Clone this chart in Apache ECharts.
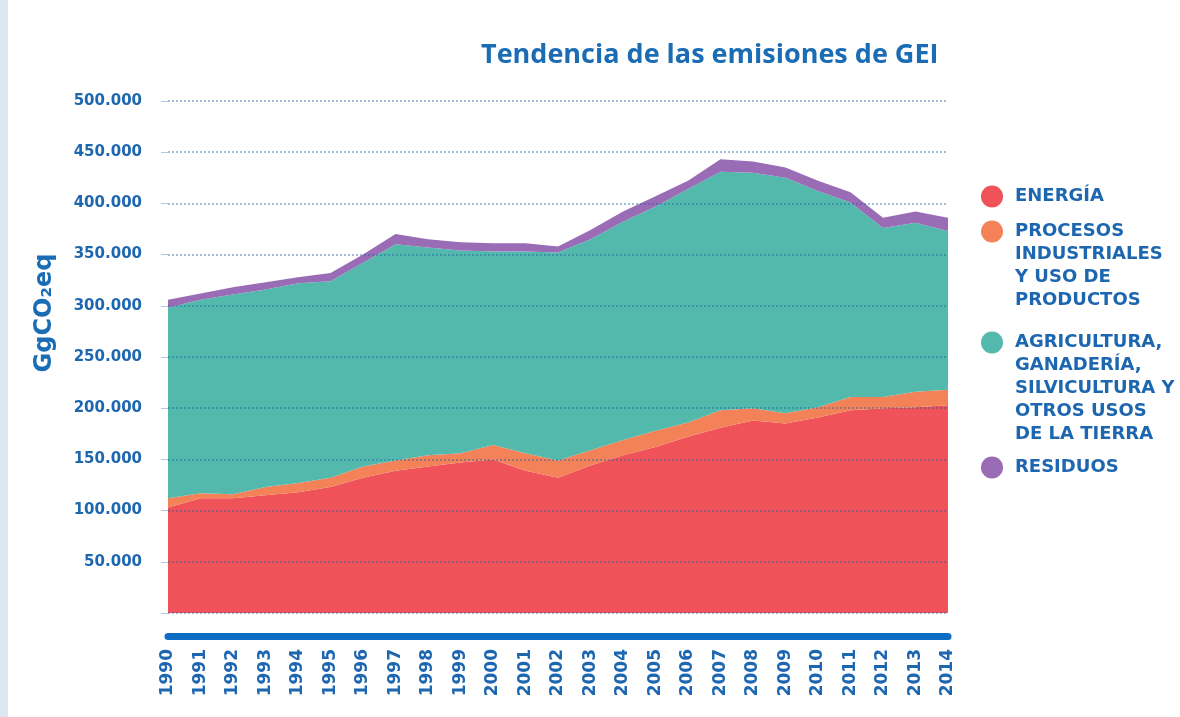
<!DOCTYPE html>
<html>
<head>
<meta charset="utf-8">
<title>Tendencia de las emisiones de GEI</title>
<script src="https://cdn.jsdelivr.net/npm/echarts@6/dist/echarts.min.js"></script>
<style>
  html, body { margin: 0; padding: 0; background: #fff; }
  #strip { position: absolute; left: 0; top: 0; width: 8px; height: 717px; background: #dce7f4; }
  #chart { width: 1180px; height: 717px; }
</style>
</head>
<body>
<div id="strip"></div>
<div id="chart"></div>
<script>
// años
const years = ['1990', '1991', '1992', '1993', '1994', '1995', '1996', '1997', '1998', '1999',
  '2000', '2001', '2002', '2003', '2004', '2005', '2006', '2007', '2008', '2009',
  '2010', '2011', '2012', '2013', '2014'];

// emisiones por sector (GgCO2eq)
const energia = [103000, 112000, 112000, 115000, 118000, 123000, 132000, 139000, 143000, 147000,
  150000, 139000, 132000, 144000, 154000, 162000, 172000, 181000, 188000, 185000,
  191000, 198000, 200000, 201000, 203000];
const procesos = [9000, 5000, 4000, 8000, 9000, 9000, 11000, 10000, 11000, 9000,
  14000, 17000, 17000, 15000, 15000, 16000, 14000, 17000, 12000, 10000,
  10000, 13000, 11000, 15000, 15000];
const agricultura = [186000, 189000, 195000, 193000, 195000, 192000, 199000, 211000, 203000, 198000,
  189000, 197000, 203000, 206000, 213000, 219000, 228000, 233000, 230000, 230000,
  211000, 190000, 165000, 165000, 155000];
const residuos = [8000, 6000, 7000, 7000, 6000, 8000, 8000, 10000, 8000, 8000,
  8000, 8000, 6000, 9000, 10000, 10000, 8000, 12000, 11000, 10000,
  10000, 10000, 10000, 11000, 13000];

const yTicks = [0, 50000, 100000, 150000, 200000, 250000, 300000, 350000, 400000, 450000, 500000];

const sectores = [
  { name: 'ENERGÍA', data: energia, color: '#ef5258', lines: 1 },
  { name: 'PROCESOS\nINDUSTRIALES\nY USO DE\nPRODUCTOS', data: procesos, color: '#f48258', lines: 4 },
  { name: 'AGRICULTURA,\nGANADERÍA,\nSILVICULTURA Y\nOTROS USOS\nDE LA TIERRA', data: agricultura, color: '#53b9ac', lines: 5 },
  { name: 'RESIDUOS', data: residuos, color: '#9a6cb6', lines: 1 }
];

const azul = '#1d66b0';
const fuente = '"DejaVu Sans", sans-serif';
const lineH = 23;
const legendTops = [185, 151, 239, 456];

function formatMiles(v) {
  if (v === 0) return '';
  return (v / 1000) + '.000';
}

const chart = echarts.init(document.getElementById('chart'));

const option = {
  animation: false,
  title: {
    text: 'Tendencia de las emisiones de GEI',
    left: 476,
    top: 37,
    textStyle: { color: '#1a6cb5', fontSize: 27, fontWeight: 'bold', fontFamily: '"Open Sans", sans-serif' }
  },
  // una leyenda por sector; las líneas vacías al principio alinean el círculo con la primera línea
  legend: sectores.map((s, i) => ({
    orient: 'vertical',
    left: 981,
    top: legendTops[i],
    padding: 0,
    icon: 'circle',
    itemWidth: 22,
    itemHeight: 22,
    itemGap: 0,
    selectedMode: false,
    formatter: name => '\n'.repeat(s.lines - 1) + name,
    textStyle: {
      color: azul, fontSize: 18, fontWeight: 'bold', fontFamily: fuente,
      lineHeight: lineH, padding: [0, 0, 0, 7]
    },
    data: [s.name]
  })),
  grid: { left: 168, right: 232, top: 101, bottom: 104 },
  xAxis: {
    type: 'category',
    data: years,
    boundaryGap: false,
    offset: 23,
    axisLine: { onZero: false, lineStyle: { color: '#0d6cc3', width: 7 } },
    axisTick: { show: false },
    axisLabel: {
      rotate: 90,
      margin: 13,
      color: azul,
      fontSize: 17,
      fontWeight: 'bold',
      fontFamily: fuente
    }
  },
  yAxis: {
    type: 'value',
    min: yTicks[0],
    max: yTicks[yTicks.length - 1],
    interval: 50000,
    z: 10,
    name: 'GgCO₂eq',
    nameLocation: 'middle',
    nameGap: 111,
    nameTextStyle: {
      color: '#1a6cb5', fontSize: 24, fontWeight: 'bold', fontFamily: fuente,
      padding: [0, 0, 0, 88]
    },
    axisLine: { show: false },
    axisTick: { show: true, length: 7, lineStyle: { color: 'rgba(40,100,170,0.35)' } },
    axisLabel: {
      margin: 26,
      color: azul,
      fontSize: 15,
      fontWeight: 'bold',
      fontFamily: fuente,
      formatter: formatMiles
    },
    splitLine: {
      lineStyle: { color: 'rgba(30,95,165,0.55)', width: 1.5, type: [2, 2] }
    }
  },
  series: sectores.map(s => ({
    name: s.name,
    type: 'line',
    stack: 'total',
    data: s.data,
    showSymbol: false,
    symbol: 'none',
    color: s.color,
    lineStyle: { width: 0 },
    areaStyle: { color: s.color, opacity: 1 }
  }))
};

chart.setOption(option);
</script>
</body>
</html>
